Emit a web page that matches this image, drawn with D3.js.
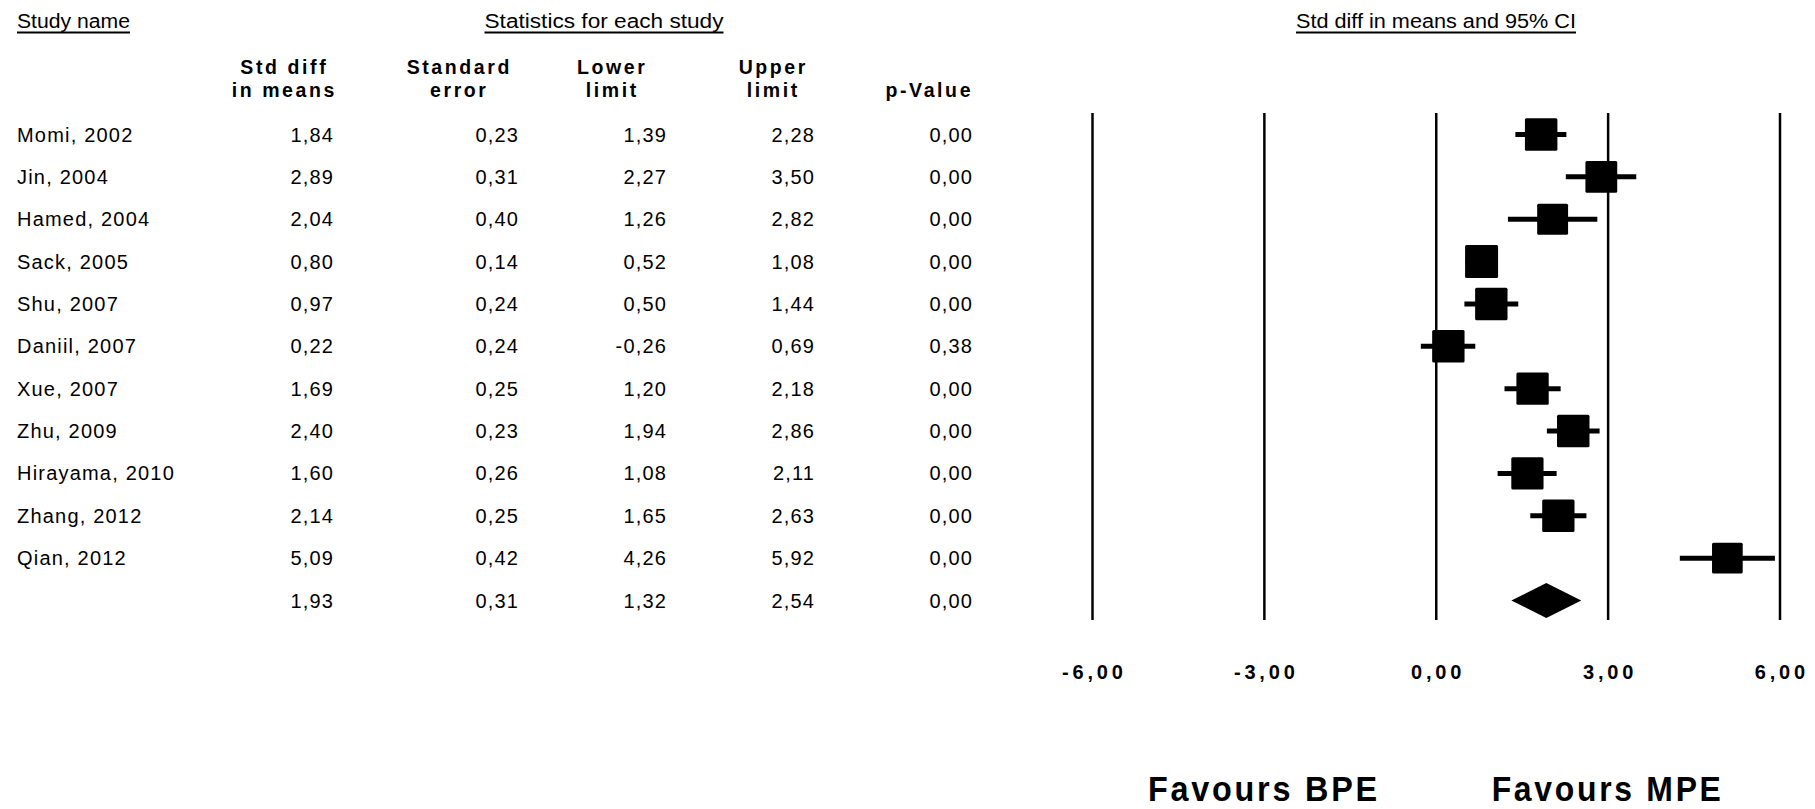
<!DOCTYPE html>
<html><head><meta charset="utf-8">
<script src="https://cdn.jsdelivr.net/npm/d3@7"></script>
<style>body{margin:0;background:#fff} svg{display:block}</style>
</head><body><svg id="c" width="1815" height="809"></svg>
<script>
// ---- data ----
const studies = ["Momi, 2002","Jin, 2004","Hamed, 2004","Sack, 2005","Shu, 2007","Daniil, 2007","Xue, 2007","Zhu, 2009","Hirayama, 2010","Zhang, 2012","Qian, 2012"];
const stdDiff = [1.84,2.89,2.04,0.80,0.97,0.22,1.69,2.40,1.60,2.14,5.09];
const stdErr  = [0.23,0.31,0.40,0.14,0.24,0.24,0.25,0.23,0.26,0.25,0.42];
const lower   = [1.39,2.27,1.26,0.52,0.50,-0.26,1.20,1.94,1.08,1.65,4.26];
const upper   = [2.28,3.50,2.82,1.08,1.44,0.69,2.18,2.86,2.11,2.63,5.92];
const pValue  = [0.00,0.00,0.00,0.00,0.00,0.38,0.00,0.00,0.00,0.00,0.00];
const summaryRow = [1.93,0.31,1.32,2.54,0.00]; // std diff, se, lower, upper, p
const axisTicks = [-6,-3,0,3,6];
const axisDomain = [-6,6];
const columnHeaders = [["Std diff","in means"],["Standard","error"],["Lower","limit"],["Upper","limit"],["","p-Value"]];
const sectionTitles = ["Study name","Statistics for each study","Std diff in means and 95% CI"];
const favourLabels = ["Favours BPE","Favours MPE"];
const favourAt = [-3,3];
const tau2 = 0.98; // between-study variance (for marker weights)

// ---- setup ----
const svg = d3.select("#c");
const loc = d3.formatLocale({decimal:",",thousands:".",grouping:[3],currency:["",""],minus:"-"});
const f2 = loc.format(".2f");
const FONT = "'Liberation Sans', Arial, sans-serif";

const x = d3.scaleLinear().domain(axisDomain).range([1092,1779.5]);
const nRows = studies.length + 1;
const y = d3.scalePoint().domain(d3.range(nRows)).range([134.5,600.5]);

// ---- section titles ----
const titleSpecs = [
  {x:17, anchor:"start", w:113},
  {x:604, anchor:"middle", w:239},
  {x:1436, anchor:"middle", w:280}
];
sectionTitles.forEach((t,i)=>{
  const s = titleSpecs[i];
  svg.append("text").attr("x",s.x).attr("y",28).attr("text-anchor",s.anchor)
    .attr("font-family",FONT).attr("font-size",19.5).attr("fill","#000")
    .attr("textLength",s.w).attr("lengthAdjust","spacingAndGlyphs").text(t);
  const x0 = s.anchor==="start" ? s.x : s.x - s.w/2;
  svg.append("line").attr("x1",x0).attr("x2",x0+s.w).attr("y1",32.5).attr("y2",32.5)
    .attr("stroke","#000").attr("stroke-width",2);
});

// ---- column headers ----
const colRight = [333,518,666,814,972];
const colCenter = [283,458,611,772,928];
const hdrLS = 2.6;
columnHeaders.forEach((h,i)=>{
  h.forEach((line,j)=>{
    if(!line) return;
    svg.append("text").attr("x",colCenter[i]+hdrLS/2).attr("y",j===0?74:97)
      .attr("text-anchor","middle").attr("font-family",FONT).attr("font-weight","bold")
      .attr("font-size",19.5).attr("letter-spacing",hdrLS).attr("fill","#000").text(line);
  });
});

// ---- table rows ----
const bodyLS = 1.2;
const rows = studies.map((s,i)=>({name:s, vals:[stdDiff[i],stdErr[i],lower[i],upper[i],pValue[i]]}));
rows.push({name:"", vals:summaryRow});
rows.forEach((r,i)=>{
  const yy = y(i) + 7;
  if(r.name) svg.append("text").attr("x",17).attr("y",yy).attr("font-family",FONT)
    .attr("font-size",20).attr("letter-spacing",bodyLS).attr("fill","#000").text(r.name);
  r.vals.forEach((v,k)=>{
    svg.append("text").attr("x",colRight[k]+bodyLS).attr("y",yy).attr("text-anchor","end")
      .attr("font-family",FONT).attr("font-size",20).attr("letter-spacing",bodyLS)
      .attr("fill","#000").text(f2(v));
  });
});

// ---- axis with full-height grid lines ----
const yTop = 113, yBottom = 620;
const axisLS = 3.8;
const axisG = svg.append("g").attr("transform",`translate(0,${yBottom})`)
  .call(d3.axisBottom(x).tickValues(axisTicks).tickSize(-(yBottom-yTop)).tickPadding(44.5)
    .tickFormat(f2));
axisG.select(".domain").remove();
axisG.selectAll(".tick line").attr("stroke","#000").attr("stroke-width",2.5);
axisG.selectAll(".tick text").attr("font-family",FONT).attr("font-weight","bold")
  .attr("font-size",20).attr("letter-spacing",axisLS).attr("dx",axisLS/2).attr("fill","#000");

// ---- CI lines and squares ----
const w = stdErr.map(se=>1/(se*se+tau2));
const wMax = d3.max(w);
const side = d3.scaleSqrt().domain([0,wMax]).range([0,33]);
const g = svg.append("g");
studies.forEach((s,i)=>{
  g.append("line").attr("x1",x(lower[i])).attr("x2",x(upper[i]))
    .attr("y1",y(i)).attr("y2",y(i)).attr("stroke","#000").attr("stroke-width",5);
  const sd = side(w[i]);
  g.append("rect").attr("x",x(stdDiff[i])-sd/2).attr("y",y(i)-sd/2)
    .attr("width",sd).attr("height",sd).attr("rx",1.5).attr("fill","#000");
});
// summary diamond
const ys = y(nRows-1), dh = 17.5;
g.append("path").attr("d",`M${x(summaryRow[2])},${ys}L${x(summaryRow[0])},${ys-dh}L${x(summaryRow[3])},${ys}L${x(summaryRow[0])},${ys+dh}Z`)
  .attr("fill","#000");

// ---- favours labels ----
favourLabels.forEach((t,i)=>{
  svg.append("text").attr("x",x(favourAt[i])).attr("y",801).attr("text-anchor","middle")
    .attr("font-family",FONT).attr("font-weight","bold").attr("font-size",35)
    .attr("letter-spacing",3).attr("textLength",232).attr("lengthAdjust","spacingAndGlyphs")
    .attr("fill","#000").text(t);
});
</script></body></html>
